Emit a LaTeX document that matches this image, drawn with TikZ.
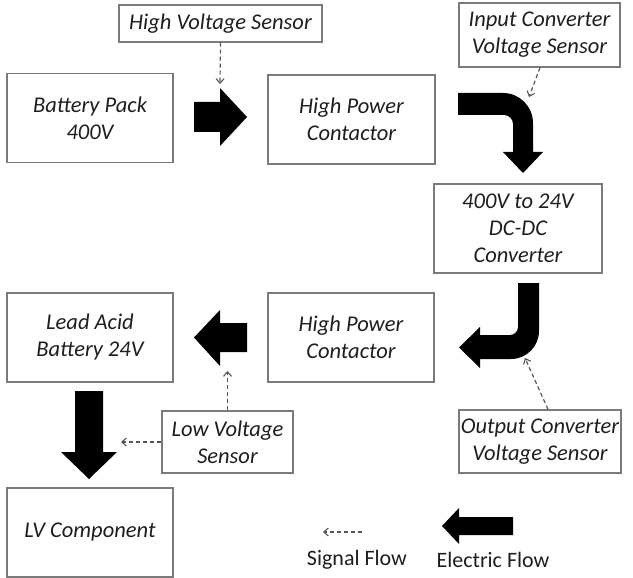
\documentclass[tikz,border=0pt]{standalone}
\usepackage{fontspec}
\setmainfont{Carlito}
\usetikzlibrary{arrows.meta}
\definecolor{boxgray}{HTML}{7A7A7A}
\definecolor{txtgray}{HTML}{1E1E1E}
\definecolor{siggray}{HTML}{555555}
\tikzset{
  blk/.style={draw=boxgray, line width=1.4pt, rectangle, inner sep=0pt, align=center,
    text=txtgray, font=\fontsize{22.5}{27}\selectfont\itshape},
  sig/.style={draw=siggray, line width=1.2pt, dash pattern=on 4pt off 3pt,
    -{Straight Barb[length=4.5pt,width=8pt,line width=1.1pt]}},
  fat/.style={fill=black},
  legend/.style={text=txtgray, font=\fontsize{22}{27}\selectfont, inner sep=0pt}
}
\begin{document}
\begin{tikzpicture}[x=1pt,y=-1pt]
\useasboundingbox (0,0) rectangle (633,578);
% boxes
\node[blk, minimum width=203pt, minimum height=37pt] (hvs) at (220.5,23.5) {High Voltage Sensor};
\node[blk, minimum width=161pt, minimum height=64pt] (ics) at (539.5,35) {Input Converter\\Voltage Sensor};
\node[blk, minimum width=166pt, minimum height=89pt] (bat) at (90,118) {Battery Pack\\400V};
\node[blk, minimum width=167pt, minimum height=89pt] (hpc1) at (351.5,119.5) {High Power\\Contactor};
\node[blk, minimum width=168pt, minimum height=89pt] (dcdc) at (518,228.5) {400V to 24V\\DC-DC\\Converter};
\node[blk, minimum width=166pt, minimum height=89pt] (lab) at (90,337.5) {Lead Acid\\Battery 24V};
\node[blk, minimum width=166pt, minimum height=89pt] (hpc2) at (351,337.5) {High Power\\Contactor};
\node[blk, minimum width=162pt, minimum height=63pt] (ocs) at (540,441.5) {Output Converter\\Voltage Sensor};
\node[blk, minimum width=131pt, minimum height=62pt] (lvs) at (227.5,442) {Low Voltage\\Sensor};
\node[blk, minimum width=166pt, minimum height=89pt] (lvc) at (90,532.5) {LV Component};
% fat arrows (electric flow)
\fill[fat] (194,102) -- (220,102) -- (220,88) -- (247,117) -- (220,146) -- (220,132) -- (194,132) -- cycle;
\coordinate (a1) at (220,84);
\fill[fat] (458,93) [rounded corners=30pt] -- (533,93) [sharp corners] -- (533,152) -- (543,152) -- (523,173) -- (503,152) -- (513,152) [rounded corners=9pt] -- (513,115) [sharp corners] -- (458,115) -- cycle;
\coordinate (a2) at (529,97);
\fill[fat] (518,283) -- (539,283) [rounded corners=28pt] -- (539,359) [sharp corners] -- (480,359) -- (480,368) -- (459,347.5) -- (480,327) -- (480,335) [rounded corners=8pt] -- (518,335) [sharp corners] -- cycle;
\coordinate (a3) at (525,358);
\fill[fat] (247,323) -- (220,323) -- (220,310) -- (194,337.5) -- (220,366) -- (220,352) -- (247,352) -- cycle;
\coordinate (a4) at (227.5,371);
\fill[fat] (75,391) -- (103,391) -- (103,452) -- (117,452) -- (89,479) -- (61,452) -- (75,452) -- cycle;
\coordinate (a5) at (121,442);
% signal flow
\draw[sig] (hvs.south) -- (a1);
\draw[sig] ([xshift=0.5pt]ics.south) -- (a2);
\draw[sig] ([xshift=8pt]ocs.north) -- (a3);
\draw[sig] (lvs.north) -- (a4);
\draw[sig] (lvs.west) -- (a5);
% legend
\coordinate (l1) at (362,532);
\coordinate (l2) at (323,532);
\draw[sig] (l1) -- (l2);
\node[legend] (sf) at (357,560) {Signal Flow};
\fill[fat] (513,517) -- (459,517) -- (459,508) -- (442,526) -- (459,544) -- (459,535) -- (513,535) -- cycle;
\node[legend] (ef) at (493,560) {Electric Flow};
\end{tikzpicture}
\end{document}
